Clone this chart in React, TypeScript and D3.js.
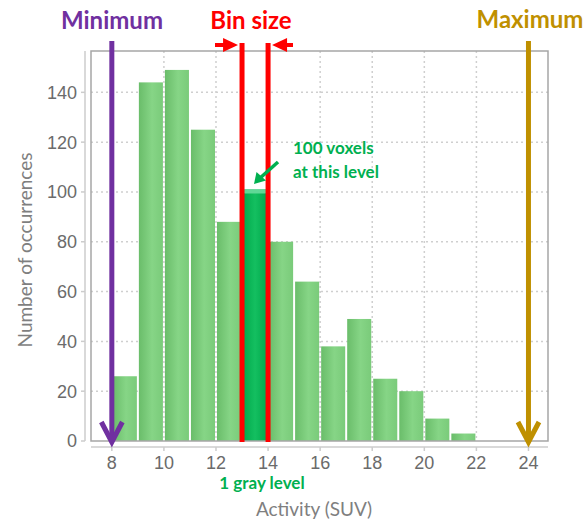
import React from 'react';
import * as d3 from 'd3';

// histogram bins (start of each 1-SUV bin) and their counts
const binStarts = [8, 9, 10, 11, 12, 13, 14, 15, 16, 17, 18, 19, 20, 21];
const counts = [26, 144, 149, 125, 88, 101, 80, 64, 38, 49, 25, 20, 9, 3];
const highlightBin = 13;

const xTicks = [8, 10, 12, 14, 16, 18, 20, 22, 24];
const yTicks = [0, 20, 40, 60, 80, 100, 120, 140];

const minValue = 8;
const maxValue = 24;
const binEdges = [13, 14];

const W = 584;
const H = 525;
const frame = { left: 91, right: 548, top: 51, bottom: 441 };

const tickFont = '"Liberation Sans", Arial, sans-serif';
const titleFont = 'Lato, "Open Sans", sans-serif';

const App: React.FC = () => {
  const x = d3.scaleLinear().domain([7.2, 24.75]).range([frame.left, frame.right]);
  const y = d3.scaleLinear().domain([0, 156.6]).range([frame.bottom, frame.top]);

  const chevron = (cx: number, tipY: number) =>
    `M${cx - 10.5},${tipY - 20} L${cx},${tipY} L${cx + 10.5},${tipY - 20}`;

  const greenArrow = d3.line()([[278, 162], [259, 179]]);

  return (
    <svg
      width={W}
      height={H}
      style={{ position: 'absolute', left: 0, top: 0, background: '#fff' }}
    >
      <defs>
        <linearGradient id="barFill" x1="0" x2="1" y1="0" y2="0">
          <stop offset="0%" stopColor="#6abd6a" />
          <stop offset="55%" stopColor="#86d586" />
          <stop offset="100%" stopColor="#7acb7a" />
        </linearGradient>
        <linearGradient id="hiFill" x1="0" x2="1" y1="0" y2="0">
          <stop offset="0%" stopColor="#00a84c" />
          <stop offset="50%" stopColor="#14bf60" />
          <stop offset="100%" stopColor="#00a84c" />
        </linearGradient>
      </defs>

      {/* grid */}
      {yTicks.filter(t => t > 0).map(t => (
        <line key={'gy' + t} x1={frame.left} x2={frame.right} y1={y(t)} y2={y(t)}
          stroke="#cfcfcf" strokeWidth={1.5} strokeDasharray="2,3" />
      ))}
      {xTicks.filter(t => t > 8 && t < 24).map(t => (
        <line key={'gx' + t} x1={x(t)} x2={x(t)} y1={frame.top} y2={frame.bottom}
          stroke="#cfcfcf" strokeWidth={1.5} strokeDasharray="2,3" />
      ))}

      {/* bars */}
      {binStarts.map((b, i) => {
        const hi = b === highlightBin;
        const x0 = x(b) + 1;
        const w = x(b + 1) - x(b) - 2;
        const top = y(counts[i]);
        return (
          <g key={'bar' + b}>
            <rect x={x0} y={top} width={w} height={frame.bottom - top}
              fill={hi ? 'url(#hiFill)' : 'url(#barFill)'} />
            {hi && <rect x={x0} y={top} width={w} height={4} rx={2} fill="#5fd896" />}
          </g>
        );
      })}

      {/* frame */}
      <rect x={frame.left} y={frame.top} width={frame.right - frame.left}
        height={frame.bottom - frame.top} fill="none" stroke="#a6a6a6" strokeWidth={1.5} />

      {/* y axis */}
      <line x1={85} x2={85} y1={frame.top} y2={frame.bottom} stroke="#cccccc" strokeWidth={1.5} />
      {yTicks.map(t => (
        <g key={'yt' + t}>
          <line x1={81} x2={85} y1={y(t)} y2={y(t)} stroke="#cccccc" strokeWidth={1.5} />
          <text x={77} y={y(t)} dy="0.36em" textAnchor="end" fontFamily={tickFont}
            fontSize={18} fill="#6b6b6b">{t}</text>
        </g>
      ))}

      {/* x axis */}
      <line x1={frame.left} x2={frame.right} y1={447} y2={447} stroke="#cccccc" strokeWidth={1.5} />
      {xTicks.map(t => (
        <g key={'xt' + t}>
          <line x1={x(t)} x2={x(t)} y1={447} y2={451} stroke="#cccccc" strokeWidth={1.5} />
          <text x={x(t)} y={469} textAnchor="middle" fontFamily={tickFont}
            fontSize={18} fill="#6b6b6b">{t}</text>
        </g>
      ))}

      {/* axis titles */}
      <text transform="translate(32,250) rotate(-90)" textAnchor="middle"
        fontFamily={titleFont} fontSize={19} fill="#7f7f7f">Number of occurrences</text>
      <text x={314} y={516} textAnchor="middle" fontFamily={titleFont} fontSize={19}
        fill="#7f7f7f">Activity (SUV)</text>

      {/* minimum */}
      <line x1={x(minValue)} x2={x(minValue)} y1={41} y2={441} stroke="#7030a0" strokeWidth={5} />
      <path d={chevron(x(minValue), 442)} fill="none" stroke="#7030a0" strokeWidth={5} />
      <text x={112} y={29} textAnchor="middle" fontFamily={titleFont} fontWeight={700}
        fontSize={24} fill="#7030a0">Minimum</text>

      {/* maximum */}
      <line x1={x(maxValue)} x2={x(maxValue)} y1={41} y2={441} stroke="#bf9000" strokeWidth={5} />
      <path d={chevron(x(maxValue), 442)} fill="none" stroke="#bf9000" strokeWidth={5} />
      <text x={530} y={28} textAnchor="middle" fontFamily={titleFont} fontWeight={700}
        fontSize={24} fill="#bf9000">Maximum</text>

      {/* bin size */}
      {binEdges.map(e => (
        <line key={'be' + e} x1={x(e)} x2={x(e)} y1={43} y2={442} stroke="#ff0000" strokeWidth={5} />
      ))}
      <line x1={215} x2={226} y1={45} y2={45} stroke="#ff0000" strokeWidth={4} />
      <path d={`M${x(binEdges[0]) - 4},45 L${x(binEdges[0]) - 19},38 L${x(binEdges[0]) - 19},52 Z`} fill="#ff0000" />
      <line x1={x(binEdges[1]) + 15} x2={293} y1={45} y2={45} stroke="#ff0000" strokeWidth={4} />
      <path d={`M${x(binEdges[1]) + 4},45 L${x(binEdges[1]) + 19},38 L${x(binEdges[1]) + 19},52 Z`} fill="#ff0000" />
      <text x={251} y={29} textAnchor="middle" fontFamily={titleFont} fontWeight={700}
        fontSize={24} fill="#ff0000">Bin size</text>

      {/* 100 voxels callout */}
      <path d={greenArrow ?? ''} stroke="#00b050" strokeWidth={3.5} fill="none" />
      <path d="M254,184 L256.5,172 L266,180.5 Z" fill="#00b050" />
      <text x={293} y={154} fontFamily={titleFont} fontWeight={700} fontSize={17} fill="#00b050">100 voxels</text>
      <text x={293} y={178} fontFamily={titleFont} fontWeight={700} fontSize={17} fill="#00b050">at this level</text>

      <text x={262} y={489} textAnchor="middle" fontFamily={titleFont} fontWeight={700}
        fontSize={17} fill="#00b050">1 gray level</text>
    </svg>
  );
};

export default App;
